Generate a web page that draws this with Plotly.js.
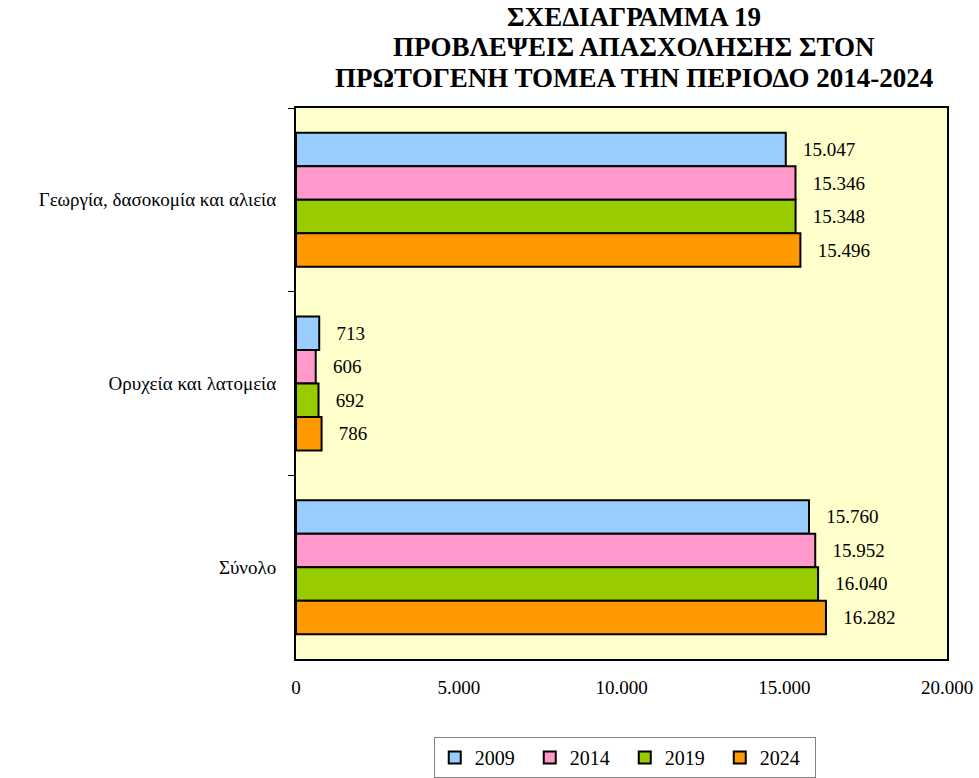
<!DOCTYPE html>
<html>
<head>
<meta charset="utf-8">
<script src="https://cdn.plot.ly/plotly-3.0.1.min.js"></script>
<style>html,body{margin:0;padding:0;background:#fff;}#chart{width:979px;height:778px;}</style>
</head>
<body>
<div id="chart"></div>
<script>
const categories = ["Γεωργία, δασοκομία και αλιεία", "Ορυχεία και λατομεία", "Σύνολο"];
const seriesNames = ["2009", "2014", "2019", "2024"];
const v2009 = [15047, 713, 15760];
const v2014 = [15346, 606, 15952];
const v2019 = [15348, 692, 16040];
const v2024 = [15496, 786, 16282];
const xTickVals = [0, 5000, 10000, 15000, 20000];
const xTickText = ["0", "5.000", "10.000", "15.000", "20.000"];
const titleLines = ["ΣΧΕΔΙΑΓΡΑΜΜΑ 19", "ΠΡΟΒΛΕΨΕΙΣ ΑΠΑΣΧΟΛΗΣΗΣ ΣΤΟΝ", "ΠΡΩΤΟΓΕΝΗ ΤΟΜΕΑ ΤΗΝ ΠΕΡΙΟΔΟ 2014-2024"];

const values = [v2009, v2014, v2019, v2024];
const colors = ["#99CCFF", "#FF99CC", "#99CC00", "#FF9900"];
const FONT = "Liberation Serif";

const traces = seriesNames.map((name, i) => ({
  type: "bar",
  orientation: "h",
  name: name,
  y: categories,
  x: values[i],
  marker: {color: colors[i], line: {color: "#000", width: 2}},
  texttemplate: "\u00A0\u00A0\u00A0%{x:,}",
  textposition: "outside",
  textfont: {family: FONT, size: 19, color: "#000"},
  cliponaxis: false,
  hoverinfo: "none"
}));

const titleShifts = [91, 61, 30];
const annotations = titleLines.map((t, i) => ({
  text: "<b>" + t + "</b>",
  font: {family: FONT, size: 27, color: "#000"},
  xref: "paper", x: 0.5, xanchor: "center", xshift: 12,
  yref: "paper", y: 1, yanchor: "middle", yshift: titleShifts[i],
  showarrow: false
}));

const layout = {
  width: 979, height: 778,
  margin: {l: 296, r: 32, t: 108, b: 119},
  paper_bgcolor: "#fff",
  plot_bgcolor: "#FFFFCC",
  separators: ",.",
  font: {family: FONT, size: 19, color: "#000"},
  barmode: "group",
  bargap: 0.27,
  bargroupgap: 0,
  showlegend: true,
  annotations: annotations,
  xaxis: {
    range: [0, 20000],
    tickvals: xTickVals, ticktext: xTickText,
    showgrid: false, zeroline: false,
    showline: true, linecolor: "#000", linewidth: 2, mirror: true,
    ticks: "", ticklabelstandoff: 10,
    tickfont: {family: FONT, size: 19, color: "#000"},
    fixedrange: true
  },
  yaxis: {
    type: "category",
    autorange: "reversed",
    showgrid: false, zeroline: false,
    showline: true, linecolor: "#000", linewidth: 2, mirror: true,
    ticks: "outside", ticklen: 6, tickcolor: "#000", tickwidth: 1,
    tickson: "boundaries",
    ticklabelstandoff: 14,
    tickfont: {family: FONT, size: 19, color: "#000"},
    fixedrange: true
  },
  legend: {
    orientation: "h",
    xref: "paper", x: 0.505, xanchor: "center",
    yref: "container", y: 0.0527, yanchor: "top",
    bordercolor: "#808080", borderwidth: 1, bgcolor: "#fff",
    font: {family: FONT, size: 20, color: "#000"},
    entrywidth: 50, traceorder: "normal",
    itemwidth: 30
  }
};

Plotly.newPlot("chart", traces, layout, {displayModeBar: false, staticPlot: true});
</script>
</body>
</html>
